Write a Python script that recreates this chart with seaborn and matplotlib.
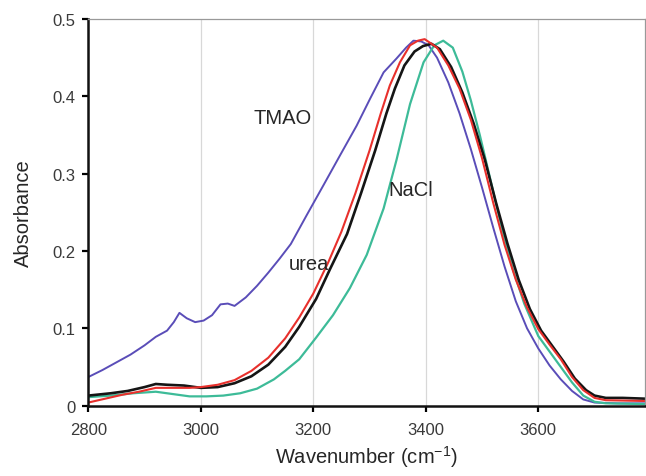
import numpy as np
import pandas as pd
import seaborn as sns
import matplotlib
matplotlib.use("Agg")
import matplotlib.pyplot as plt

# spectra (wavenumber cm-1, absorbance)
tmao_x = [2800, 2825, 2850, 2875, 2900, 2920, 2940, 2952, 2962, 2975, 2990, 3005, 3020, 3035,
          3048, 3060, 3080, 3100, 3120, 3140, 3160, 3188, 3218, 3247, 3277, 3301, 3325, 3348,
          3365, 3378, 3392, 3405, 3420, 3440, 3460, 3480, 3500, 3520, 3540, 3560, 3580, 3600,
          3620, 3640, 3660, 3680, 3700, 3740, 3790]
tmao_y = [0.037, 0.046, 0.056, 0.066, 0.078, 0.089, 0.097, 0.108, 0.120, 0.113, 0.108, 0.110, 0.117, 0.131,
          0.132, 0.129, 0.140, 0.155, 0.172, 0.190, 0.209, 0.246, 0.285, 0.323, 0.362, 0.397, 0.431, 0.449,
          0.463, 0.472, 0.471, 0.466, 0.450, 0.418, 0.378, 0.332, 0.282, 0.230, 0.180, 0.135, 0.100, 0.074,
          0.052, 0.034, 0.019, 0.008, 0.004, 0.003, 0.003]

urea_x = [2800, 2830, 2860, 2890, 2920, 2950, 2980, 3000, 3030, 3060, 3090, 3120, 3150, 3175,
          3200, 3227, 3250, 3275, 3300, 3320, 3336, 3354, 3372, 3386, 3398, 3420, 3440, 3460, 3480,
          3500, 3520, 3540, 3560, 3580, 3600, 3620, 3640, 3660, 3680, 3700, 3720, 3790]
urea_y = [0.004, 0.009, 0.014, 0.018, 0.023, 0.023, 0.023, 0.024, 0.027, 0.033, 0.045, 0.062, 0.087, 0.114,
          0.145, 0.186, 0.225, 0.275, 0.330, 0.378, 0.414, 0.444, 0.466, 0.472, 0.474, 0.463, 0.440, 0.410, 0.370,
          0.320, 0.262, 0.208, 0.163, 0.127, 0.099, 0.079, 0.060, 0.037, 0.020, 0.010, 0.007, 0.006]

water_x = [2800, 2840, 2870, 2900, 2920, 2940, 2970, 3000, 3030, 3060, 3090, 3120, 3150, 3175,
           3205, 3230, 3260, 3285, 3310, 3330, 3345, 3362, 3380, 3395, 3410, 3425, 3445, 3465, 3485,
           3505, 3525, 3545, 3565, 3585, 3605, 3625, 3645, 3665, 3685, 3700, 3720, 3750, 3790]
water_y = [0.013, 0.016, 0.019, 0.024, 0.028, 0.027, 0.026, 0.023, 0.024, 0.029, 0.038, 0.053, 0.076, 0.102,
           0.138, 0.177, 0.222, 0.275, 0.330, 0.378, 0.410, 0.440, 0.458, 0.465, 0.468, 0.461, 0.438, 0.405, 0.365,
           0.318, 0.262, 0.210, 0.163, 0.125, 0.097, 0.077, 0.057, 0.035, 0.020, 0.013, 0.010, 0.010, 0.009]

nacl_x = [2800, 2840, 2880, 2920, 2950, 2980, 3010, 3040, 3070, 3100, 3130, 3150, 3175, 3205,
          3235, 3265, 3295, 3325, 3348, 3372, 3396, 3415, 3431, 3448, 3465, 3480, 3496,
          3515, 3535, 3555, 3575, 3600, 3620, 3640, 3660, 3680, 3700, 3720, 3790]
nacl_y = [0.011, 0.013, 0.016, 0.018, 0.015, 0.012, 0.012, 0.013, 0.016, 0.022, 0.034, 0.045, 0.060, 0.088,
          0.117, 0.152, 0.195, 0.255, 0.318, 0.390, 0.444, 0.466, 0.472, 0.463, 0.432, 0.395, 0.350,
          0.292, 0.230, 0.176, 0.132, 0.090, 0.070, 0.050, 0.030, 0.013, 0.005, 0.003, 0.002]

sns.set_style("white", {'xtick.bottom': True, 'ytick.left': True})
plt.rcParams['font.family'] = ['Liberation Sans', 'DejaVu Sans']
plt.rcParams['mathtext.fontset'] = 'custom'
plt.rcParams['mathtext.rm'] = 'Liberation Sans'

fig = plt.figure(figsize=(6.46, 4.77), dpi=100)
ax = fig.add_axes([0.1367, 0.1475, 0.862, 0.8105])

ax.grid(axis='x', color='#d8d8d8', linewidth=0.9)
ax.set_axisbelow(True)

sns.lineplot(x=tmao_x, y=tmao_y, color='#5a4db8', linewidth=1.4, ax=ax)
sns.lineplot(x=nacl_x, y=nacl_y, color='#3dbb98', linewidth=1.6, ax=ax)
sns.lineplot(x=water_x, y=water_y, color='#151515', linewidth=1.9, ax=ax)
sns.lineplot(x=urea_x, y=urea_y, color='#e8302c', linewidth=1.5, ax=ax)

ax.set_xlim(2800, 3790)
ax.set_ylim(0, 0.5)
ax.set_xticks([2800, 3000, 3200, 3400, 3600])
ax.set_yticks([0, 0.1, 0.2, 0.3, 0.4, 0.5])
ax.set_yticklabels(['0', '0.1', '0.2', '0.3', '0.4', '0.5'])
ax.tick_params(axis='both', which='major', direction='out', length=4, width=1.6, color='black',
               bottom=True, left=True, labelsize=12, labelcolor='#3a3a3a')
ax.tick_params(axis='x', pad=8)
ax.tick_params(axis='y', pad=5)

for s in ['left', 'bottom']:
    ax.spines[s].set_color('#111111')
    ax.spines[s].set_linewidth(1.8)
for s in ['top', 'right']:
    ax.spines[s].set_color('#999999')
    ax.spines[s].set_linewidth(0.9)

ax.set_xlabel('Wavenumber (cm$^{\\mathregular{-1}}$)', fontsize=14.5)
ax.set_ylabel('Absorbance', fontsize=14.5)
ax.xaxis.set_label_coords(0.5, -0.098)
ax.yaxis.set_label_coords(-0.100, 0.5)

ax.text(3146, 0.373, 'TMAO', fontsize=14.5, ha='center', va='center')
ax.text(3192, 0.184, 'urea', fontsize=14.5, ha='center', va='center')
ax.text(3373, 0.280, 'NaCl', fontsize=14.5, ha='center', va='center')

fig.savefig('out.png', dpi=100)
